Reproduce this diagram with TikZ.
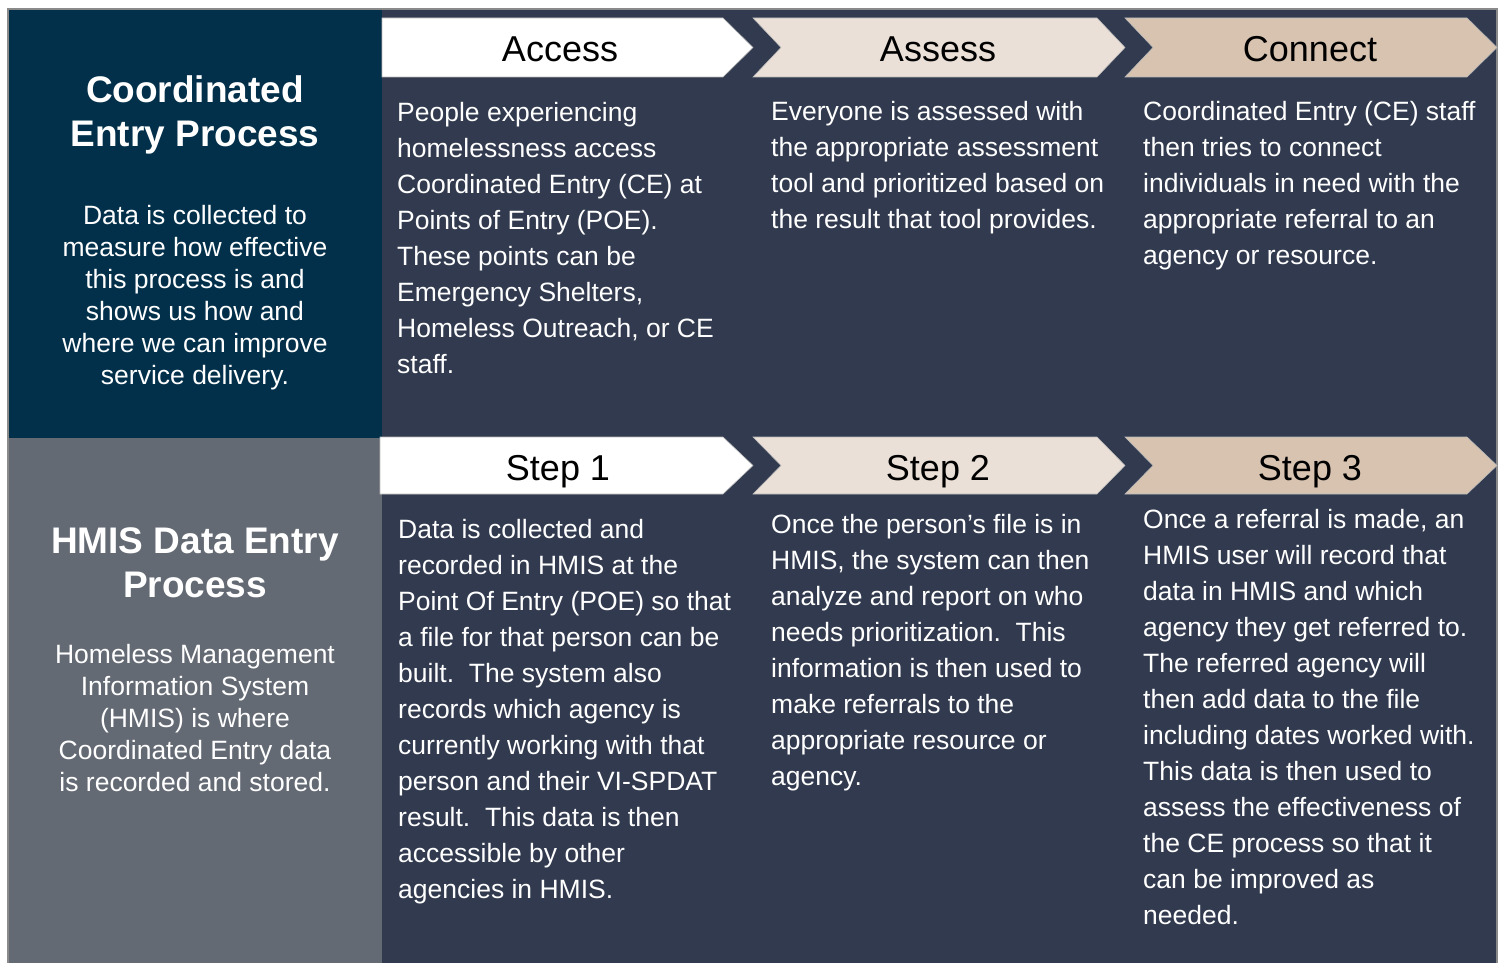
\documentclass[tikz,border=0pt]{standalone}
\usepackage{fontspec}
\setmainfont{Liberation Sans}
\definecolor{navy}{HTML}{02304A}
\definecolor{slate}{HTML}{313A4E}
\definecolor{greypanel}{HTML}{646A74}
\definecolor{beigeA}{HTML}{EBE0D7}
\definecolor{beigeB}{HTML}{D7C3B0}
\definecolor{edgegrey}{HTML}{8A8A8A}
\newcommand\tstrut{\rule{0pt}{22pt}}
\tikzset{
  body/.style={inner sep=0pt, anchor=north west, align=left, text=white,
    font=\fontsize{26.5}{36}\selectfont},
  sidebody/.style={inner sep=0pt, anchor=north, align=center, text=white,
    font=\fontsize{26.5}{32}\selectfont},
  sidetitle/.style={inner sep=0pt, anchor=north, align=center, text=white,
    font=\fontsize{37}{44}\selectfont\bfseries},
  chevlabel/.style={inner sep=0pt, anchor=base, text=black,
    font=\fontsize{36}{40}\selectfont},
  chevshape/.style={draw=edgegrey!60, line width=0.6pt}
}
\begin{document}
\begin{tikzpicture}[x=1pt,y=-1pt]
\useasboundingbox (0,0) rectangle (1502,963);
\fill[white] (0,0) rectangle (1502,963);
% panels
\fill[slate] (382,9) rectangle (1497,963);
\fill[navy] (8,9) rectangle (382,438);
\fill[greypanel] (8,438) rectangle (382,963);
\draw[edgegrey, line width=1.5pt] (8,963) -- (8,9) -- (1497,9) -- (1497,963);
% top chevrons
\path[fill=white, chevshape] (382,18) -- (723,18) -- (753,47.5) -- (723,77) -- (382,77) -- cycle;
\path[fill=beigeA, chevshape] (753,18) -- (1097,18) -- (1125,47.5) -- (1097,77) -- (753,77) -- (781,47.5) -- cycle;
\path[fill=beigeB, chevshape] (1125,18) -- (1467,18) -- (1497,47.5) -- (1467,77) -- (1125,77) -- (1153,47.5) -- cycle;
% bottom chevrons
\path[fill=white, chevshape] (380,437) -- (723,437) -- (753,465.5) -- (723,494) -- (380,494) -- cycle;
\path[fill=beigeA, chevshape] (753,437) -- (1097,437) -- (1125,465.5) -- (1097,494) -- (753,494) -- (781,465.5) -- cycle;
\path[fill=beigeB, chevshape] (1125,437) -- (1467,437) -- (1497,465.5) -- (1467,494) -- (1125,494) -- (1153,465.5) -- cycle;
% chevron labels
\node[chevlabel] (access) at (560,62) {Access};
\node[chevlabel] (assess) at (938,62) {Assess};
\node[chevlabel] (connect) at (1310,62) {Connect};
\node[chevlabel] (step1) at (558,480) {Step 1};
\node[chevlabel] (step2) at (938,480) {Step 2};
\node[chevlabel] (step3) at (1310,480) {Step 3};
% side panels
\node[sidetitle] (cetitle) at (195,102-30) {\rule{0pt}{30pt}Coordinated\\Entry Process};
\node[sidebody] (cebody) at (195,224-22) {\tstrut Data is collected to\\measure how effective\\this process is and\\shows us how and\\where we can improve\\service delivery.};
\node[sidetitle] (hmistitle) at (195,553-30) {\rule{0pt}{30pt}HMIS Data Entry\\Process};
\node[sidebody] (hmisbody) at (195,663-22) {\tstrut Homeless Management\\Information System\\(HMIS) is where\\Coordinated Entry data\\is recorded and stored.};
% top texts
\node[body] (t1) at (397,121-22) {\tstrut People experiencing\\homelessness access\\Coordinated Entry (CE) at\\Points of Entry (POE).\\These points can be\\Emergency Shelters,\\Homeless Outreach, or CE\\staff.};
\node[body] (t2) at (771,120-22) {\tstrut Everyone is assessed with\\the appropriate assessment\\tool and prioritized based on\\the result that tool provides.};
\node[body] (t3) at (1143,120-22) {\tstrut Coordinated Entry (CE) staff\\then tries to connect\\individuals in need with the\\appropriate referral to an\\agency or resource.};
% bottom texts
\node[body] (b1) at (398,538-22) {\tstrut Data is collected and\\recorded in HMIS at the\\Point Of Entry (POE) so that\\a file for that person can be\\built.\ \ The system also\\records which agency is\\currently working with that\\person and their VI-SPDAT\\result.\ \ This data is then\\accessible by other\\agencies in HMIS.};
\node[body] (b2) at (771,533-22) {\tstrut Once the person’s file is in\\HMIS, the system can then\\analyze and report on who\\needs prioritization.\ \ This\\information is then used to\\make referrals to the\\appropriate resource or\\agency.};
\node[body] (b3) at (1143,528-22) {\tstrut Once a referral is made, an\\HMIS user will record that\\data in HMIS and which\\agency they get referred to.\\The referred agency will\\then add data to the file\\including dates worked with.\\This data is then used to\\assess the effectiveness of\\the CE process so that it\\can be improved as\\needed.};
\end{tikzpicture}
\end{document}
